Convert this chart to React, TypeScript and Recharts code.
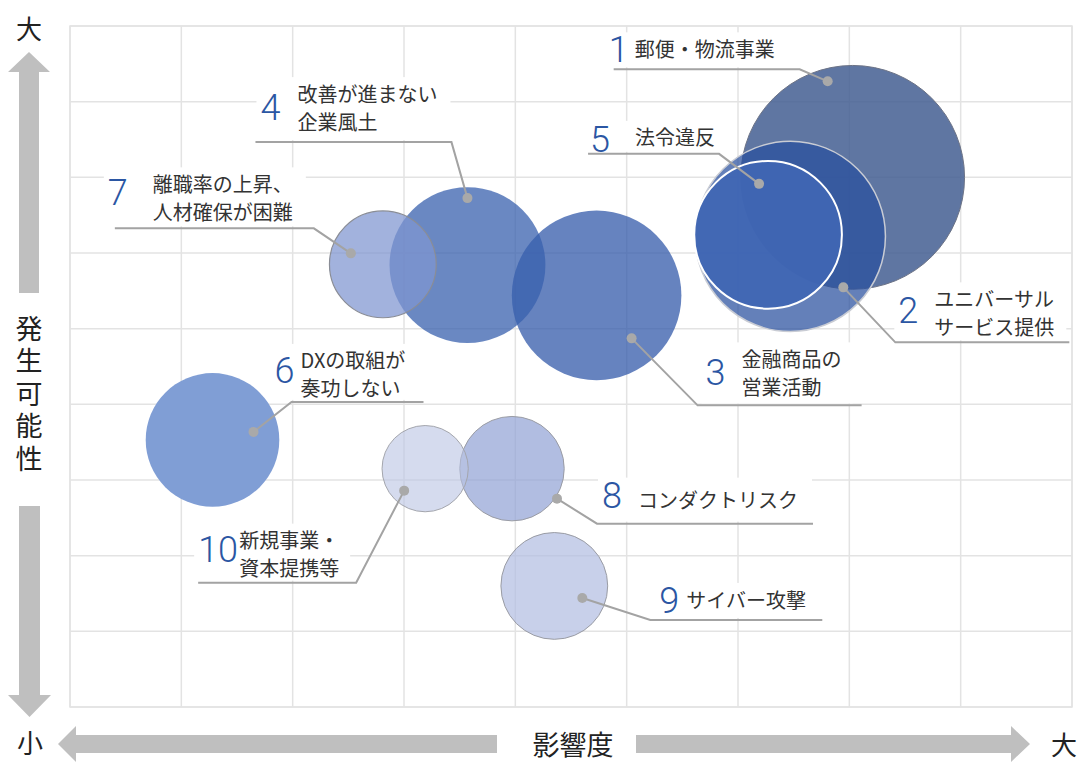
import { ScatterChart, Scatter, XAxis, YAxis, ZAxis, CartesianGrid } from "recharts";

// risk map: x = 影響度, y = 発生可能性, z = bubble size (area-like)
const riskIds = [1, 2, 3, 4, 5, 6, 7, 8, 9, 10];
const riskNames = [
  ["郵便・物流事業"],
  ["ユニバーサル", "サービス提供"],
  ["金融商品の", "営業活動"],
  ["改善が進まない", "企業風土"],
  ["法令違反"],
  ["DXの取組が", "奏功しない"],
  ["離職率の上昇、", "人材確保が困難"],
  ["コンダクトリスク"],
  ["サイバー攻撃"],
  ["新規事業・", "資本提携等"],
];
const impact = [7.03, 6.47, 4.73, 3.57, 6.27, 1.28, 2.81, 3.97, 4.35, 3.19];
const likelihood = [7.0, 6.22, 5.44, 5.84, 6.24, 3.53, 5.85, 3.15, 1.6, 3.15];
const size = [1.01, 0.73, 0.58, 0.49, 0.44, 0.36, 0.23, 0.22, 0.23, 0.15];
const gridTicks = [0, 1, 2, 3, 4, 5, 6, 7, 8, 9];

const UNIT_PX = 1002 / 9;

// bigger bubbles first so the small ones sit on top
const data = riskIds
  .map((id, i) => ({ id, lines: riskNames[i], x: impact[i], y: likelihood[i], z: size[i] }))
  .sort((a, b) => b.z - a.z);

const bubbleStyle: Record<number, { fill: string; stroke: string; sw: number }> = {
  1: { fill: "rgba(67,94,146,0.85)", stroke: "#6c7386", sw: 1 },
  2: { fill: "rgba(40,79,158,0.72)", stroke: "#c9ccd4", sw: 1.5 },
  3: { fill: "rgba(48,88,168,0.74)", stroke: "none", sw: 0 },
  4: { fill: "rgba(56,96,174,0.75)", stroke: "none", sw: 0 },
  5: { fill: "rgba(64,102,180,0.94)", stroke: "#ffffff", sw: 2 },
  6: { fill: "rgb(128,158,213)", stroke: "none", sw: 0 },
  7: { fill: "rgba(128,150,208,0.73)", stroke: "#8a8d96", sw: 1.2 },
  8: { fill: "rgba(144,161,212,0.7)", stroke: "#9a9ca4", sw: 1 },
  9: { fill: "rgba(176,188,225,0.7)", stroke: "#9a9ca4", sw: 1 },
  10: { fill: "rgba(185,195,227,0.6)", stroke: "#a4a6ad", sw: 1 },
};

// callout offsets (px) from the bubble centre: dot, elbow, far end of underline, number, text
type Callout = { dot: number[]; elbow: number[]; end: number; num: number[]; text: number[] };
const callouts: Record<number, Callout> = {
  1: { dot: [-25, -96], elbow: [-53, -108], end: -239, num: [-244, -115], text: [-218, -129] },
  2: { dot: [53, 51], elbow: [105, 106], end: 279, num: [108, 87], text: [144, 62] },
  3: { dot: [35, 43], elbow: [101, 110], end: 265, num: [109, 90], text: [145, 63] },
  4: { dot: [0, -67], elbow: [-16, -123], end: -212, num: [-207, -145], text: [-170, -172] },
  5: { dot: [-9, -51], elbow: [-49, -81], end: -180, num: [-178, -83], text: [-133, -98] },
  6: { dot: [41, -8], elbow: [79, -38], end: 211, num: [62, -57], text: [88, -80] },
  7: { dot: [-32, -11], elbow: [-69, -36], end: -268, num: [-275, -59], text: [-230, -81] },
  8: { dot: [45, 30], elbow: [85, 55], end: 301, num: [90, 39], text: [126, 31] },
  9: { dot: [28, 12], elbow: [96, 34], end: 268, num: [105, 27], text: [132, 14] },
  10: { dot: [-21, 22], elbow: [-69, 114], end: -227, num: [-227, 93], text: [-186, 71] },
};

const JP = '"Noto Sans CJK JP", "Noto Sans", sans-serif';
const LINE_H = 28;

const textWidth = (s: string) =>
  Array.from(s).reduce((w, ch) => w + (ch.charCodeAt(0) < 128 ? 11 : 21), 0);

const Bubble = (props: any) => {
  const { cx, cy, width, payload } = props;
  const s = bubbleStyle[payload.id];
  return <circle cx={cx} cy={cy} r={width / 2} fill={s.fill} stroke={s.stroke} strokeWidth={s.sw} />;
};

const CalloutShape = (props: any) => {
  const { cx, cy, payload } = props;
  const c = callouts[payload.id];
  const dx = cx + c.dot[0];
  const dy = cy + c.dot[1];
  const ex = cx + c.elbow[0];
  const ey = cy + c.elbow[1];
  const fx = cx + c.end;
  const tx = cx + c.text[0];
  const ty = cy + c.text[1];
  const nx = cx + c.num[0];
  const w = Math.max(...payload.lines.map(textWidth));
  const boxL = Math.min(nx, tx) - 4;
  const boxR = tx + w + 6;
  const boxT = Math.min(ty - 16, cy + c.num[1] - 30);
  return (
    <g>
      <rect x={boxL} y={boxT} width={boxR - boxL} height={ey - 2 - boxT} fill="#fff" />
      <polyline
        points={`${dx},${dy} ${ex},${ey} ${fx},${ey}`}
        fill="none"
        stroke="#a3a3a3"
        strokeWidth={2}
      />
      <circle cx={dx} cy={dy} r={5} fill="#a9a9a9" />
      <text
        x={nx}
        y={cy + c.num[1]}
        fontFamily="Roboto, sans-serif"
        fontWeight={300}
        fontSize={36}
        fill="#2b56a3"
      >
        {payload.id}
      </text>
      {payload.lines.map((t: string, i: number) => (
        <text
          key={i}
          x={tx}
          y={ty + i * LINE_H}
          dominantBaseline="central"
          fontFamily={JP}
          fontSize={20}
          fill="#333"
        >
          {t}
        </text>
      ))}
    </g>
  );
};

const ARROW = "#bfbfbf";

export default function App() {
  return (
    <div style={{ position: "absolute", left: 0, top: 0, width: 1080, height: 762, background: "#fff" }}>
      <ScatterChart width={1080} height={762} margin={{ top: 26, right: 8, bottom: 55, left: 70 }}>
        <CartesianGrid stroke="#e3e3e3" strokeWidth={1.5} />
        <XAxis type="number" dataKey="x" domain={[0, 9]} ticks={gridTicks} hide />
        <YAxis type="number" dataKey="y" domain={[0, 9]} ticks={gridTicks} hide />
        <ZAxis type="number" dataKey="z" domain={[0, 2]} range={[0, 2 * Math.PI * UNIT_PX * UNIT_PX]} />
        <Scatter data={data} shape={Bubble} isAnimationActive={false} />
        <Scatter data={data} shape={CalloutShape} isAnimationActive={false} />
      </ScatterChart>
      <svg
        width={1080}
        height={762}
        style={{ position: "absolute", left: 0, top: 0, pointerEvents: "none" }}
      >
        <rect x={70} y={26} width={1002} height={681} fill="none" stroke="#e3e3e3" strokeWidth={1.5} />
        <polygon points="29,52 50,72 39,72 39,293 19,293 19,72 8,72" fill={ARROW} />
        <polygon points="29.5,717 51,695 40,695 40,506 19,506 19,695 8,695" fill={ARROW} />
        <polygon points="58,744 76,726 76,735 497,735 497,753 76,753 76,762" fill={ARROW} />
        <polygon points="1030,744 1011,726 1011,735 636,735 636,753 1011,753 1011,762" fill={ARROW} />
        <g fontFamily={JP} fontSize={26} fill="#222" textAnchor="middle" dominantBaseline="central">
          <text x={29} y={27}>大</text>
          <text
            x={29}
            y={315}
            textAnchor="start"
            fontSize={27}
            letterSpacing={5.5}
            style={{ writingMode: "vertical-rl" }}
          >
            発生可能性
          </text>
          <text x={30} y={741}>小</text>
          <text x={573} y={743} fontSize={27}>影響度</text>
          <text x={1064} y={743}>大</text>
        </g>
      </svg>
    </div>
  );
}
